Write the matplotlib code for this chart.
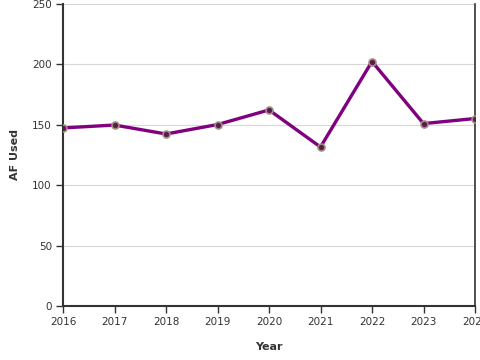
import matplotlib
matplotlib.use("Agg")
import matplotlib.pyplot as plt

# datos
years = [2016, 2017, 2018, 2019, 2020, 2021, 2022, 2023, 2024]
af_used = [147.4, 149.8, 142.4, 150.2, 162.3, 131.6, 202.4, 151.0, 155.2]
y_ticks = [0, 50, 100, 150, 200, 250]

fig = plt.figure(figsize=(4.8, 3.6), dpi=100)
ax = fig.add_axes([63/480, 1 - 306/360, 412/480, 302/360])

ax.plot(years, af_used, color="#800080", lw=2.4, zorder=3,
        marker="o", ms=5, mfc="#5c1a4e", mec="#a09080", mew=1.2)

ax.set_xlim(2016, 2024)
ax.set_ylim(0, 250)
ax.set_yticks(y_ticks)
ax.set_xticks(years)
ax.grid(axis="y", color="#d8d8d8", lw=0.8)
ax.set_axisbelow(True)

for s in ["left", "bottom", "right"]:
    ax.spines[s].set_color("#333333")
    ax.spines[s].set_linewidth(1.5)
ax.spines["right"].set_linewidth(1.2)
ax.spines["top"].set_visible(False)

ax.tick_params(direction="out", length=5, width=1, color="#333333",
               labelsize=7.5, labelcolor="#333333", pad=3)
ax.tick_params(axis="y", right=False)

ax.set_xlabel("Year", fontsize=8, fontweight="bold", color="#333333", labelpad=11)
ax.set_ylabel("AF Used", fontsize=8, fontweight="bold", color="#333333", labelpad=9)

fig.savefig("out.png", dpi=100)
